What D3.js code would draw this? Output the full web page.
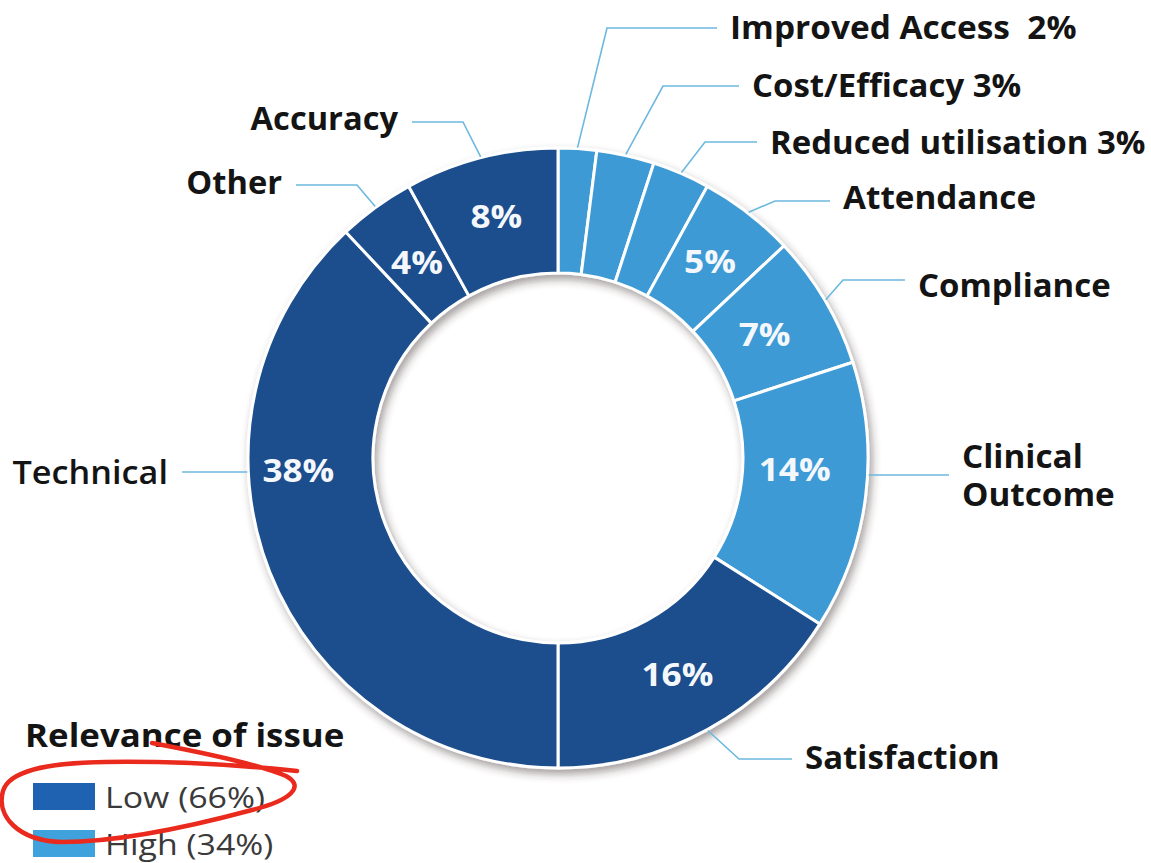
<!DOCTYPE html>
<html>
<head>
<meta charset="utf-8">
<script src="https://cdn.jsdelivr.net/npm/d3@7/dist/d3.min.js"></script>
<style>
  html, body { margin: 0; padding: 0; background: #ffffff; }
  svg { display: block; }
  text { font-family: "Open Sans", "Noto Sans", sans-serif; }
</style>
</head>
<body>
<svg id="chart" width="1151" height="863"></svg>
<script>
// Issue categories, clockwise from 12 o'clock
const categories = ["Improved Access", "Cost/Efficacy", "Reduced utilisation", "Attendance",
  "Compliance", "Clinical Outcome", "Satisfaction", "Technical", "Other", "Accuracy"];
// Share of issues, percent
const shares = [2, 3, 3, 5, 7, 14, 16, 38, 4, 8];
// Relevance level of each category
const relevance = ["High", "High", "High", "High", "High", "High", "Low", "Low", "Low", "Low"];
// Legend order
const relevanceLevels = ["Low", "High"];

const data = categories.map((c, i) => ({ name: c, value: shares[i], level: relevance[i] }));

// ---- layout (label placement around the ring) ----
const W = 1151, H = 863;
const cx = 558, cy = 458;
const outerR = 310, innerR = 185, pctR = 248;

// text position (x, y), anchor, horizontal stretch, and elbow of the leader line
const labelLayout = {
  "Improved Access":     { x: 730, y: 27,  anchor: "start", sx: 1.045, elbowX: 607, lineY: 28 },
  "Cost/Efficacy":       { x: 752, y: 85,  anchor: "start", sx: 1.03, elbowX: 663, lineY: 86 },
  "Reduced utilisation": { x: 770, y: 142, anchor: "start", sx: 1.03, elbowX: 705, lineY: 142 },
  "Attendance":          { x: 843, y: 197, anchor: "start", sx: 1.04, elbowX: 775, lineY: 201 },
  "Compliance":          { x: 918, y: 285, anchor: "start", sx: 1.03, elbowX: 843, lineY: 280 },
  "Clinical Outcome":    { x: 962, y: 475, anchor: "start", sx: 1.04, horizontal: true, lineY: 475, lines: ["Clinical", "Outcome"] },
  "Satisfaction":        { x: 805, y: 757, anchor: "start", sx: 1.03, elbowX: 739, lineY: 759 },
  "Technical":           { x: 168, y: 472, anchor: "end", sx: 1.07, horizontal: true, lineY: 472, weight: 600 },
  "Other":               { x: 282, y: 182, anchor: "end", sx: 1.02, elbowX: 357, lineY: 185 },
  "Accuracy":            { x: 398, y: 118, anchor: "end", sx: 1.02, elbowX: 463, lineY: 122 }
};
// in-ring percentage label placement overrides (degrees clockwise from top, radius)
const pctPlace = {
  "Clinical Outcome": { angle: 93, r: 237 },
  "Technical": { angle: 267, r: 260 },
  "Other": { r: 240 },
  "Compliance": { r: 240 }
};

const color = d3.scaleOrdinal().domain(relevanceLevels).range(["#1a4d8c", "#3d9ad4"]);
const swatchColor = d3.scaleOrdinal().domain(relevanceLevels).range(["#1f62b2", "#3fa2dc"]);
const leaderColor = "#6cb9de";

const svg = d3.select("#chart");
svg.append("rect").attr("width", W).attr("height", H).attr("fill", "#fff");

const defs = svg.append("defs");
const f = defs.append("filter").attr("id", "ringShadow")
  .attr("x", "-10%").attr("y", "-10%").attr("width", "125%").attr("height", "125%");
f.append("feDropShadow").attr("dx", 3).attr("dy", 5).attr("stdDeviation", 4)
  .attr("flood-color", "#3a2a2a").attr("flood-opacity", 0.45);

const pie = d3.pie().sort(null).value(d => d.value);
const arcs = pie(data);
const arc = d3.arc().innerRadius(innerR).outerRadius(outerR);

const g = svg.append("g").attr("transform", `translate(${cx},${cy})`);

// ring
g.append("g").attr("filter", "url(#ringShadow)")
  .selectAll("path").data(arcs).join("path")
  .attr("d", arc)
  .attr("fill", d => color(d.data.level))
  .attr("stroke", "#ffffff")
  .attr("stroke-width", 3)
  .attr("stroke-linejoin", "round");

// point on the outer edge at angle a (radians, clockwise from top)
const polar = (a, r) => [Math.sin(a) * r, -Math.cos(a) * r];

// in-ring percentages
g.append("g").selectAll("text")
  .data(arcs.filter(d => d.data.value >= 4)).join("text")
  .attr("transform", d => {
    const p = pctPlace[d.data.name] || {};
    const a = p.angle !== undefined ? p.angle * Math.PI / 180 : (d.startAngle + d.endAngle) / 2;
    const [x, y] = polar(a, p.r || pctR);
    return `translate(${x},${y}) scale(1.1,1)`;
  })
  .attr("text-anchor", "middle")
  .attr("dy", "0.33em")
  .attr("fill", "#f4f8fc")
  .attr("font-size", 32)
  .attr("font-weight", 700)
  .text(d => d.data.value + "%");

// leader lines and outer labels
const labels = svg.append("g");
arcs.forEach(d => {
  const L = labelLayout[d.data.name];
  const right = L.anchor === "start";
  const endX = right ? L.x - 13 : L.x + 14;
  let pts;
  if (L.horizontal) {
    const dy = L.lineY - cy;
    const dx = Math.sqrt(outerR * outerR - dy * dy) + 1;
    pts = [[right ? cx + dx : cx - dx, L.lineY], [endX, L.lineY]];
  } else {
    const [px, py] = polar((d.startAngle + d.endAngle) / 2, outerR + 1);
    pts = [[cx + px, cy + py], [L.elbowX, L.lineY], [endX, L.lineY]];
  }
  labels.append("path")
    .attr("d", d3.line()(pts))
    .attr("fill", "none")
    .attr("stroke", leaderColor)
    .attr("stroke-width", 1.6);

  const t = labels.append("text")
    .attr("transform", `translate(${L.x},${L.y}) scale(${L.sx},1)`)
    .attr("text-anchor", L.anchor)
    .attr("fill", "#141414")
    .attr("font-size", 32)
    .attr("font-weight", L.weight || 700);
  if (L.lines) {
    L.lines.forEach((s, i) => {
      t.append("tspan").attr("x", 0)
        .attr("dy", i === 0 ? "-0.22em" : "1.18em")
        .text(s);
    });
  } else {
    t.attr("dy", "0.36em")
      .text(d.data.value < 4 ? (d.data.name === "Improved Access"
        ? `${d.data.name}\u00a0\u00a0${d.data.value}%` : `${d.data.name} ${d.data.value}%`) : d.data.name);
  }
});

// legend
const totals = d3.rollup(data, v => d3.sum(v, d => d.value), d => d.level);
const legend = svg.append("g");
legend.append("text")
  .attr("transform", "translate(25,735) scale(1.09,1)").attr("dy", "0.36em")
  .attr("font-size", 32).attr("font-weight", 700).attr("fill", "#141414")
  .text("Relevance of issue");
const items = legend.selectAll("g.item").data(relevanceLevels).join("g")
  .attr("transform", (d, i) => `translate(33, ${783 + i * 47})`);
items.append("rect").attr("width", 62).attr("height", 27).attr("fill", d => swatchColor(d));
items.append("text")
  .attr("transform", "translate(72,14) scale(1.13,1)").attr("dy", "0.36em")
  .attr("font-size", 30).attr("fill", "#3a3a3a")
  .text(d => `${d} (${totals.get(d)}%)`);

// hand-drawn emphasis loop around the "Low" legend entry
svg.append("path")
  .attr("d", "M152,743 C205,753 258,764 286,776 C305,786 292,800 252,810 C200,824 125,842 62,842 C18,841 -4,816 3,791 C9,771 45,763 105,762 C175,761 240,765 297,771")
  .attr("fill", "none")
  .attr("stroke", "#ea2a1c")
  .attr("stroke-width", 4.5)
  .attr("stroke-linecap", "round")
  .attr("stroke-linejoin", "round");
</script>
</body>
</html>
